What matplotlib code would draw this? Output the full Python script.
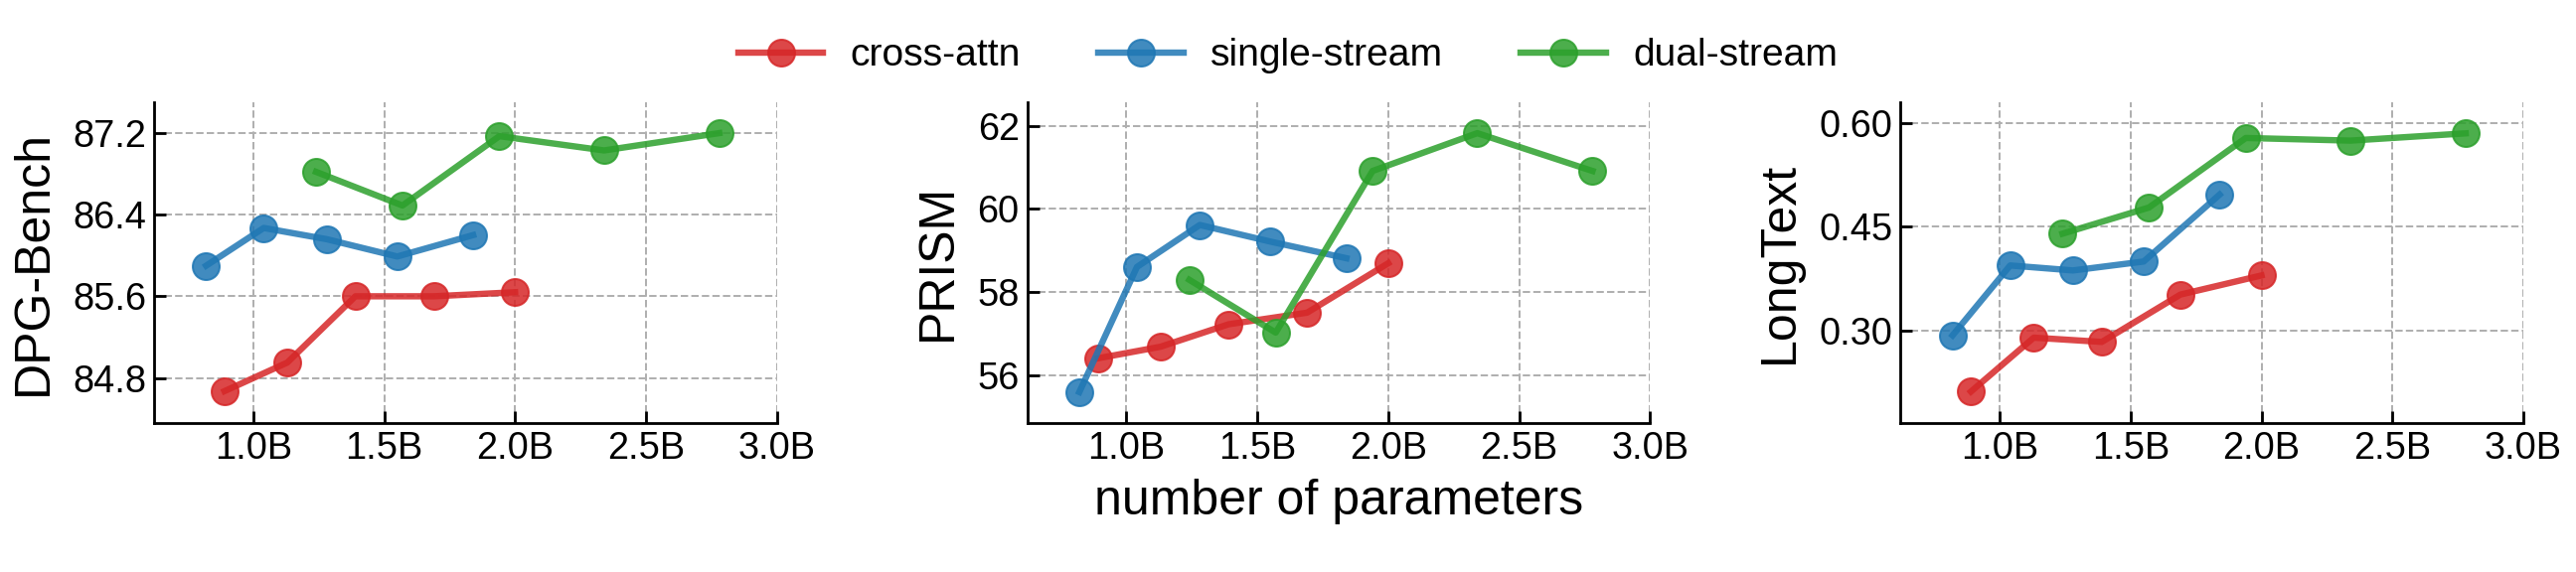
# Scaling of three text-conditioning designs vs. model size
import numpy as np
import matplotlib.pyplot as plt
from matplotlib.ticker import FormatStrFormatter

plt.rcParams['font.family'] = ['Liberation Sans', 'DejaVu Sans']

# Model sizes (billions of parameters) for each design
series_names = ['cross-attn', 'single-stream', 'dual-stream']
params_cross = [0.89, 1.13, 1.39, 1.69, 2.00]
params_single = [0.82, 1.04, 1.28, 1.55, 1.84]
params_dual = [1.24, 1.57, 1.94, 2.34, 2.78]

# DPG-Bench scores
dpg_cross = [84.67, 84.95, 85.60, 85.60, 85.64]
dpg_single = [85.90, 86.27, 86.16, 85.99, 86.20]
dpg_dual = [86.82, 86.49, 87.17, 87.03, 87.20]

# PRISM scores
prism_cross = [56.40, 56.68, 57.22, 57.50, 58.69]
prism_single = [55.59, 58.60, 59.61, 59.21, 58.81]
prism_dual = [58.29, 57.02, 60.91, 61.82, 60.91]

# LongText scores
longtext_cross = [0.2115, 0.2895, 0.2833, 0.3517, 0.3794]
longtext_single = [0.2928, 0.3938, 0.3866, 0.3995, 0.4962]
longtext_dual = [0.4397, 0.4775, 0.5780, 0.5742, 0.5847]

x_ticks = [1.0, 1.5, 2.0, 2.5, 3.0]
x_tick_labels = ['1.0B', '1.5B', '2.0B', '2.5B', '3.0B']

panels = [
    ('DPG-Bench', [dpg_cross, dpg_single, dpg_dual], [84.8, 85.6, 86.4, 87.2], (84.36, 87.505), '%.1f'),
    ('PRISM', [prism_cross, prism_single, prism_dual], [56, 58, 60, 62], (54.85, 62.57), '%d'),
    ('LongText', [longtext_cross, longtext_single, longtext_dual], [0.30, 0.45, 0.60], (0.1665, 0.630), '%.2f'),
]
params = [params_cross, params_single, params_dual]
colors = ['#d62728', '#1f77b4', '#2ca02c']

fig, axes = plt.subplots(1, 3, figsize=(18, 4))
fig.subplots_adjust(left=155 / 2592, right=2539 / 2592, bottom=0.2609, top=1 - 102.7 / 576, wspace=0.402)

for ax, (ylabel, scores, yticks, ylim, fmt) in zip(axes, panels):
    for xs, ys, color, name in zip(params, scores, colors, series_names):
        ax.plot(xs, ys, '-o', color=color, lw=3.2, markersize=13.5, alpha=0.85, label=name)

    ax.set_xlim(0.621, 3.0)
    ax.set_ylim(*ylim)
    ax.set_xticks(x_ticks)
    ax.set_xticklabels(x_tick_labels)
    ax.set_yticks(yticks)
    ax.yaxis.set_major_formatter(FormatStrFormatter(fmt))
    ax.set_ylabel(ylabel, fontsize=25, labelpad=8)

    ax.grid(True, linestyle='--', color='#b0b0b0', lw=1.0)
    for side in ['top', 'right']:
        ax.spines[side].set_visible(False)
    for side in ['left', 'bottom']:
        ax.spines[side].set_linewidth(1.4)
    ax.tick_params(direction='in', length=6, width=1.4, labelsize=19, pad=4)

axes[1].set_xlabel('number of parameters', fontsize=25, labelpad=6)

handles, labels = axes[0].get_legend_handles_labels()
fig.legend(handles, labels, loc='center', bbox_to_anchor=(0.5, 0.902), ncol=3, frameon=False,
           fontsize=19.5, handlelength=2.2, handletextpad=0.7, columnspacing=2.0)

plt.savefig('out.png', dpi=144)
